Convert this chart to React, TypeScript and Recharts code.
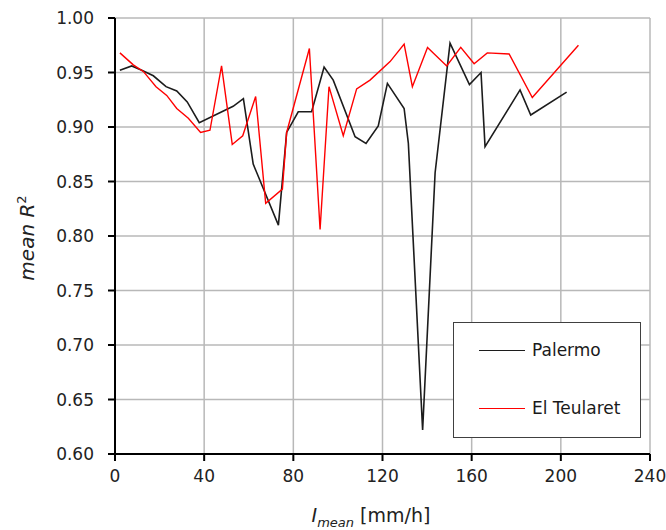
import React from "react";
import { LineChart, Line, XAxis, YAxis, CartesianGrid, Legend } from "recharts";

const palermoX = [2.2, 7.5, 12, 17.2, 22.9, 27.7, 32.4, 37.8, 53, 57.6, 62, 73.3, 77, 82.2, 88.2, 93.8, 97.9, 107.7, 112.6, 118.1, 122.2, 129.7, 131.6, 138, 143.6, 150.3, 159, 164.2, 166, 181.7, 186.5, 202.6];
const palermoY = [0.952, 0.956, 0.952, 0.947, 0.937, 0.933, 0.923, 0.904, 0.919, 0.926, 0.866, 0.81, 0.895, 0.914, 0.914, 0.955, 0.943, 0.891, 0.885, 0.901, 0.94, 0.917, 0.885, 0.622, 0.858, 0.977, 0.939, 0.95, 0.882, 0.934, 0.911, 0.932];

const teularetX = [2.2, 8.2, 12.7, 18.4, 23.2, 27.7, 32.9, 38.4, 42.6, 47.8, 52.6, 57.3, 63.1, 67.6, 75.1, 77, 87.2, 92, 96, 102.4, 108.4, 114.4, 123.4, 129.7, 133.4, 140.2, 148.8, 155.1, 161.1, 167.0, 176.8, 187.2, 207.9];
const teularetY = [0.968, 0.957, 0.951, 0.937, 0.929, 0.917, 0.908, 0.895, 0.897, 0.956, 0.884, 0.892, 0.928, 0.83, 0.843, 0.895, 0.972, 0.806, 0.937, 0.892, 0.935, 0.943, 0.96, 0.976, 0.937, 0.973, 0.956, 0.973, 0.958, 0.968, 0.967, 0.927, 0.975];

const xTicks = [0, 40, 80, 120, 160, 200, 240];
const yTicks = [0.6, 0.65, 0.7, 0.75, 0.8, 0.85, 0.9, 0.95, 1.0];

const seriesNames = ["Palermo", "El Teularet"];
const seriesColors = ["#1c1c1c", "#ff0000"];

const palermoData = palermoX.map((x, i) => ({ x, y: palermoY[i] }));
const teularetData = teularetX.map((x, i) => ({ x, y: teularetY[i] }));

const FONT = "DejaVu Sans";

const LegendBox = () => (
  <div
    style={{
      width: 186,
      height: 114,
      border: "1.5px solid #404040",
      background: "#fff",
      position: "relative",
      fontFamily: FONT,
      fontSize: 17,
      color: "#1a1a1a",
    }}
  >
    {seriesNames.map((n, i) => (
      <div
        key={n}
        style={{
          position: "absolute",
          left: 25,
          top: i === 0 ? 17 : 75,
          display: "flex",
          alignItems: "center",
          whiteSpace: "nowrap",
        }}
      >
        <div style={{ width: 46, height: 0, borderTop: `1.6px solid ${seriesColors[i]}`, marginRight: 7 }} />
        <span>{n}</span>
      </div>
    ))}
  </div>
);

export default function App() {
  return (
    <div style={{ position: "absolute", left: 0, top: 0, background: "#fff" }}>
      <LineChart width={666} height={530} margin={{ top: 18, right: 16, left: 0, bottom: 0 }}>
        <CartesianGrid stroke="#b8b8b8" strokeWidth={1.5} />
        <XAxis
          type="number"
          dataKey="x"
          domain={[0, 240]}
          ticks={xTicks}
          height={76}
          allowDataOverflow
          axisLine={{ stroke: "#000", strokeWidth: 2 }}
          tickLine={{ stroke: "#000", strokeWidth: 2 }}
          tickSize={7}
          tickMargin={9}
          tick={{ fontFamily: FONT, fontSize: 17, fill: "#222" }}
          label={{
            content: () => (
              <text x={371} y={522} textAnchor="middle" fontFamily={FONT} fontSize={19} fill="#222">
                <tspan fontStyle="italic">I</tspan>
                <tspan fontStyle="italic" fontSize={13} dy={5}>mean</tspan>
                <tspan dy={-5}> [mm/h]</tspan>
              </text>
            ),
          }}
        />
        <YAxis
          type="number"
          domain={[0.6, 1.0]}
          ticks={yTicks}
          width={115}
          allowDataOverflow
          axisLine={{ stroke: "#000", strokeWidth: 2 }}
          tickLine={{ stroke: "#000", strokeWidth: 2 }}
          tickSize={7}
          tickMargin={14}
          tickFormatter={(v: number) => v.toFixed(2)}
          tick={{ fontFamily: FONT, fontSize: 17, fill: "#222" }}
          label={{
            content: () => (
              <text
                x={34}
                y={238}
                textAnchor="middle"
                fontFamily={FONT}
                fontSize={20}
                fill="#222"
                transform="rotate(-90, 34, 238)"
              >
                <tspan fontStyle="italic">mean R</tspan>
                <tspan fontSize={13} dy={-8}>2</tspan>
              </text>
            ),
          }}
        />
        <Line
          data={palermoData}
          dataKey="y"
          name={seriesNames[0]}
          type="linear"
          stroke={seriesColors[0]}
          strokeWidth={1.6}
          dot={false}
          activeDot={false}
          isAnimationActive={false}
        />
        <Line
          data={teularetData}
          dataKey="y"
          name={seriesNames[1]}
          type="linear"
          stroke={seriesColors[1]}
          strokeWidth={1.4}
          dot={false}
          activeDot={false}
          isAnimationActive={false}
        />
        <Legend
          layout="horizontal"
          verticalAlign="middle"
          align="center"
          content={() => <LegendBox />}
          wrapperStyle={{ position: "absolute", left: 453, top: 322, width: 188, height: 116, bottom: "auto", right: "auto", margin: 0 }}
        />
      </LineChart>
    </div>
  );
}
